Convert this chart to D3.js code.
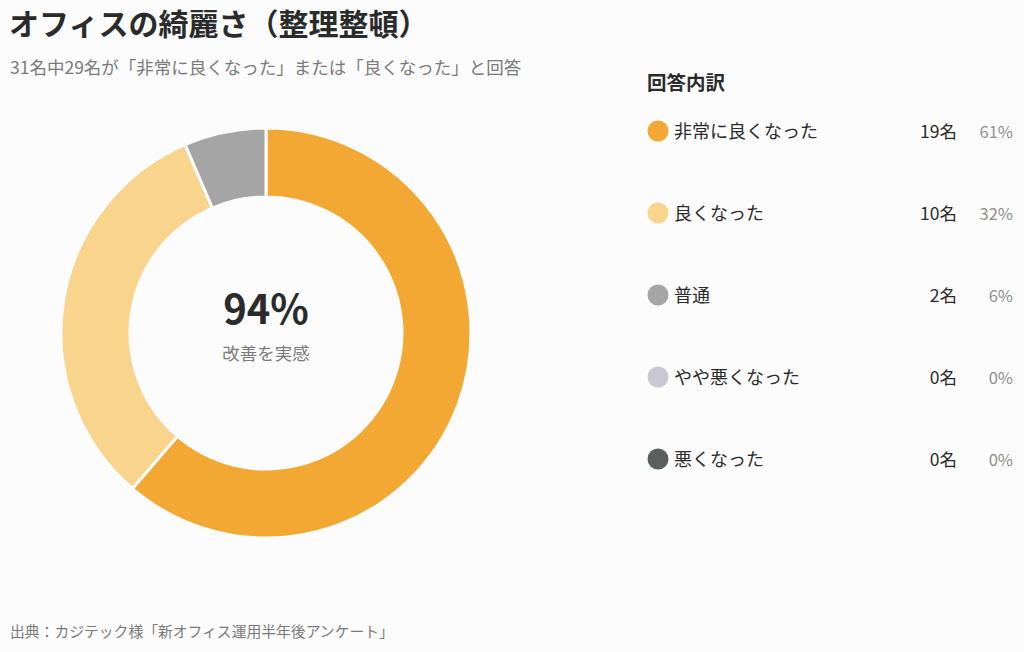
<!DOCTYPE html>
<html lang="ja">
<head>
    <meta charset="UTF-8">
    <title>オフィスの綺麗さ</title>
    <style>
      body { margin: 0; background: #fcfcfc; }
      svg { display: block; font-family: "Noto Sans CJK JP", "Noto Sans", sans-serif; }
    </style>
</head>
<body>
    <svg></svg>
    <script src="https://d3js.org/d3.v7.min.js"></script>
    <script>
    // data
    const categories = ['非常に良くなった', '良くなった', '普通', 'やや悪くなった', '悪くなった'];
    const counts = [19, 10, 2, 0, 0];
    const percentLabels = ['61%', '32%', '6%', '0%', '0%'];
    const colors = ['#f2a833', '#f8d48d', '#a5a5a5', '#c9c7d1', '#59605e'];

    const width = 1024, height = 652;
    const svg = d3.select('svg')
      .attr('width', width)
      .attr('height', height);

    svg.append('rect').attr('width', width).attr('height', height).attr('fill', '#fcfcfc');

    // titles
    svg.append('text')
      .attr('x', 9).attr('y', 35)
      .attr('font-size', 30).attr('font-weight', 700)
      .attr('fill', '#2b2b2b')
      .text('オフィスの綺麗さ（整理整頓）');

    svg.append('text')
      .attr('x', 10).attr('y', 74)
      .attr('font-size', 17.5)
      .attr('fill', '#7a7a7a')
      .text('31名中29名が「非常に良くなった」または「良くなった」と回答');

    // donut
    const cx = 266, cy = 333;
    const outerR = 205, innerR = 136;

    const pie = d3.pie().sort(null).value(d => d.value);
    const arcs = pie(categories.map((c, i) => ({ name: c, value: counts[i], color: colors[i] })));
    const arc = d3.arc().innerRadius(innerR).outerRadius(outerR);

    const g = svg.append('g').attr('transform', `translate(${cx},${cy})`);
    g.selectAll('path')
      .data(arcs.filter(d => d.data.value > 0))
      .enter()
      .append('path')
      .attr('d', arc)
      .attr('fill', d => d.data.color)
      .attr('stroke', '#fcfcfc')
      .attr('stroke-width', 3);

    const total = d3.sum(counts);
    const improved = counts[0] + counts[1];
    g.append('text')
      .attr('text-anchor', 'middle')
      .attr('y', -9)
      .attr('font-size', 40).attr('font-weight', 700)
      .attr('fill', '#2b2b2b')
      .text(Math.round(improved / total * 100) + '%');
    g.append('text')
      .attr('text-anchor', 'middle')
      .attr('y', 27)
      .attr('font-size', 17.5)
      .attr('fill', '#7a7a7a')
      .text('改善を実感');

    // legend
    const legend = svg.append('g');
    legend.append('text')
      .attr('x', 647).attr('y', 90)
      .attr('font-size', 19.5).attr('font-weight', 700)
      .attr('fill', '#2b2b2b')
      .text('回答内訳');

    const rowY = d3.scalePoint().domain(categories).range([131, 459]);
    const rows = legend.selectAll('.row')
      .data(categories)
      .enter()
      .append('g')
      .attr('class', 'row')
      .attr('transform', d => `translate(0,${rowY(d)})`);

    rows.append('circle')
      .attr('cx', 658).attr('cy', 0).attr('r', 10.5)
      .attr('fill', (d, i) => colors[i]);

    rows.append('text')
      .attr('x', 674).attr('y', 6.5)
      .attr('font-size', 18)
      .attr('fill', '#2b2b2b')
      .text(d => d);

    rows.append('text')
      .attr('x', 957).attr('y', 6.5)
      .attr('text-anchor', 'end')
      .attr('font-size', 17.5)
      .attr('fill', '#2b2b2b')
      .text((d, i) => counts[i] + '名');

    rows.append('text')
      .attr('x', 1013).attr('y', 6.5)
      .attr('text-anchor', 'end')
      .attr('font-size', 16.5)
      .attr('fill', '#8e8e8e')
      .text((d, i) => percentLabels[i]);

    // source
    svg.append('text')
      .attr('x', 10).attr('y', 637)
      .attr('font-size', 14.8)
      .attr('fill', '#7a7a7a')
      .text('出典：カジテック様「新オフィス運用半年後アンケート」');
    </script>
</body>
</html>
